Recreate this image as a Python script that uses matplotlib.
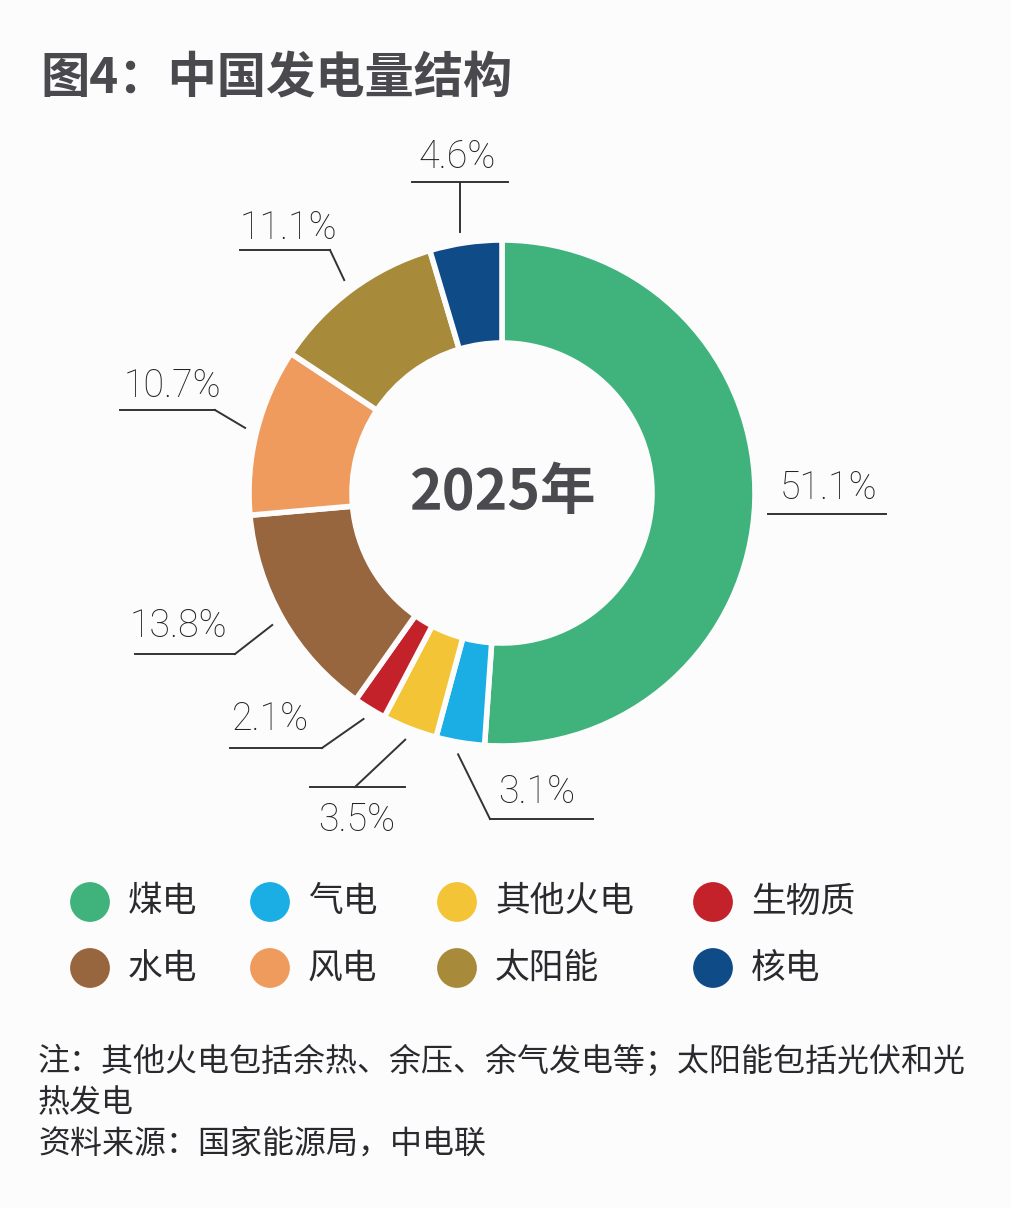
import numpy as np
import matplotlib.pyplot as plt

plt.rcParams['font.family'] = ['Noto Sans CJK SC', 'DejaVu Sans']

# data
categories = ['煤电', '气电', '其他火电', '生物质', '水电', '风电', '太阳能', '核电']
shares = [51.1, 3.1, 3.5, 2.1, 13.8, 10.7, 11.1, 4.6]
colors = ['#40b37c', '#1aaee5', '#f3c536', '#c3222b', '#97663f', '#ef9b5d', '#a88a3b', '#0f4b87']
pct_labels = ['51.1%', '3.1%', '3.5%', '2.1%', '13.8%', '10.7%', '11.1%', '4.6%']
title = '图4：中国发电量结构'
center_text = '2025年'
note_lines = ['注：其他火电包括余热、余压、余气发电等；太阳能包括光伏和光',
              '热发电',
              '资料来源：国家能源局，中电联']

W, H = 1012, 1208
bg = '#fcfcfd'
fig = plt.figure(figsize=(W / 100, H / 100), dpi=100, facecolor=bg)
ax = fig.add_axes([0, 0, 1, 1])
ax.set_xlim(0, W)
ax.set_ylim(H, 0)
ax.axis('off')

# donut in its own axes, y-up pixel space
pax = fig.add_axes([0, 0, 1, 1])
cx, cy, r_out, r_in = 502, 493, 253, 150
wedges, _ = pax.pie(shares, colors=colors, startangle=90, counterclock=False,
                    center=(cx, H - cy), radius=r_out, frame=True,
                    wedgeprops=dict(width=r_out - r_in, edgecolor=bg, linewidth=4))
pax.set_xlim(0, W)
pax.set_ylim(0, H)
pax.axis('off')

ax.text(cx, cy, center_text, ha='center', va='center', fontsize=40,
        fontweight='bold', color='#4b4b4f')

# leader lines: elbow point, horizontal segment, text centre (pixel, y down)
layout = [
    (None, (768, 886), (828, 488)),
    ((490, 819), (490, 593), (537, 792)),
    ((355, 787), (310, 405), (357, 820)),
    ((322, 748), (230, 322), (270, 719)),
    ((235, 654), (135, 235), (178, 626)),
    ((215, 410), (120, 215), (172, 386)),
    ((330, 250), (240, 330), (288, 228)),
    ((460, 182), (412, 508), (457, 157)),
]
for w, lab, (elbow, hseg, tpos) in zip(wedges, pct_labels, layout):
    ang = np.deg2rad((w.theta1 + w.theta2) / 2)
    ax_ = cx + (r_out + 12) * np.cos(ang)
    ay_ = cy - (r_out + 12) * np.sin(ang)
    if elbow is None:
        elbow = (hseg[0], ay_ + 12)
        ax.plot([hseg[0], hseg[1]], [elbow[1], elbow[1]], color='#333333', lw=1.4)
    else:
        if lab == '4.6%':
            ax_ = elbow[0]
            ay_ = 232
        ax.plot([ax_, elbow[0]], [ay_, elbow[1]], color='#333333', lw=1.4)
        ax.plot([hseg[0], hseg[1]], [elbow[1], elbow[1]], color='#333333', lw=1.4)
    ax.text(tpos[0], tpos[1], lab, ha='center', va='center', fontsize=27,
            family=['Roboto', 'DejaVu Sans'], fontweight='light', color='#222226')

ax.text(40, 78, title, ha='left', va='center', fontsize=35.5, fontweight='bold',
        color='#4a4a4e')

# legend
leg_x = [90, 270, 457, 713]
leg_y = [902, 968]
for i, (cat, col) in enumerate(zip(categories, colors)):
    lx = leg_x[i % 4]
    ly = leg_y[i // 4]
    ax.scatter([lx], [ly], s=820, color=col, edgecolors='none')
    ax.text(lx + 38, ly, cat, ha='left', va='center', fontsize=25, color='#2a2a2e')

# notes
for j, line in enumerate(note_lines):
    ax.text(38, 1062 + j * 41, line, ha='left', va='center', fontsize=23,
            color='#2a2a2e')

fig.savefig('out.png', dpi=100, facecolor=bg)
